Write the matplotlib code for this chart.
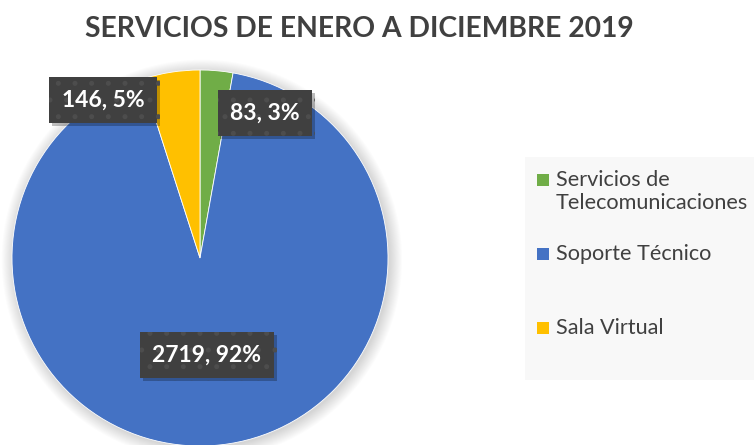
import matplotlib
matplotlib.use('Agg')
import matplotlib.pyplot as plt
import matplotlib.patheffects as pe
from matplotlib.patches import Rectangle, Circle

categorias = ['Servicios de\nTelecomunicaciones', 'Soporte Técnico', 'Sala Virtual']
valores = [83, 2719, 146]
colores = ['#70AD47', '#4472C4', '#FFC000']
titulo = 'SERVICIOS DE ENERO A DICIEMBRE 2019'

W, H = 754, 445
FONT = ['Lato', 'DejaVu Sans']
plt.rcParams['font.family'] = FONT
plt.rcParams['hatch.linewidth'] = 1.2


def fx(px):
    return px / W


def fy(py):
    return 1 - py / H


def main():
    fig = plt.figure(figsize=(W / 100, H / 100), dpi=100)
    fig.patch.set_facecolor('white')

    # pie: centre (200, 258) px, radius 188 px
    cx, cy, r = 200, 258, 188
    ax = fig.add_axes([fx(cx - r), fy(cy + r), 2 * r / W, 2 * r / H])
    ax.axis('off')

    # soft shadow
    for i in range(14):
        ax.add_patch(Circle((0.01, -0.01), 1.0 + 0.005 * i, color='black',
                            alpha=0.01, lw=0, zorder=0, clip_on=False))

    wedges, _ = ax.pie(valores, colors=colores, startangle=90, counterclock=False,
                       wedgeprops=dict(edgecolor='white', linewidth=0.6),
                       radius=1.0, frame=False)
    for w in wedges:
        w.set_clip_on(False)
    ax.set_xlim(-1, 1)
    ax.set_ylim(-1, 1)

    total = sum(valores)
    # label positions (axes data coords)
    posiciones = [(0.346, 0.771), (0.037, -0.516), (-0.516, 0.840)]
    for v, (x, y) in zip(valores, posiciones):
        pct = round(100 * v / total)
        t = ax.text(x, y, f'{v}, {pct}%', ha='center', va='center', fontsize=16.5,
                    fontweight='bold', color='white', zorder=5,
                    bbox=dict(boxstyle='square,pad=0.55', facecolor='#404040',
                              edgecolor='#4d4d4d', linewidth=0, hatch='.'))
        t.get_bbox_patch().set_path_effects(
            [pe.withSimplePatchShadow(offset=(2, -2), shadow_rgbFace='black', alpha=0.25)])

    fig.text(fx(359), fy(29), titulo, ha='center', va='center', fontsize=20.3,
             fontweight='bold', color='#404040')

    # legend
    fig.patches.append(Rectangle((fx(525), fy(380)), fx(754 - 525), (380 - 157) / H,
                                 transform=fig.transFigure, facecolor='#F8F8F8',
                                 edgecolor='none', zorder=0))
    filas = [180, 254, 328]
    for cat, col, yy in zip(categorias, colores, filas):
        fig.patches.append(Rectangle((fx(537), fy(yy + 6)), 12 / W, 12 / H,
                                     transform=fig.transFigure, facecolor=col,
                                     edgecolor='none', zorder=2))
        fig.text(fx(556), fy(yy - 10), cat, ha='left', va='top', fontsize=15.6,
                 color='#404040', linespacing=1.2)

    fig.savefig('out.png', dpi=100)


if __name__ == '__main__':
    main()
